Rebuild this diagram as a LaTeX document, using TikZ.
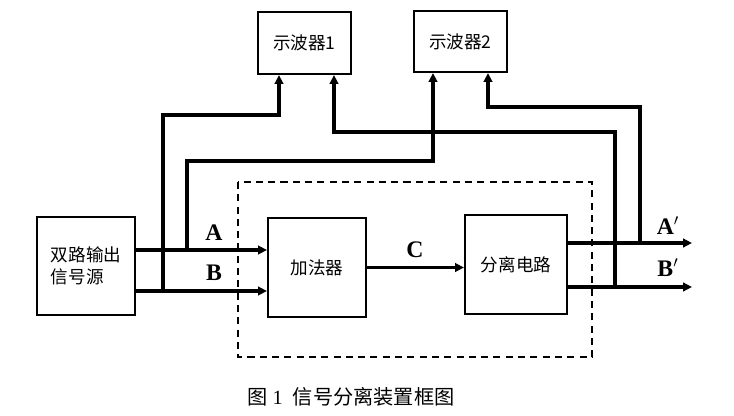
\documentclass[tikz,border=0pt]{standalone}
\usepackage{fontspec}
\setmainfont{Liberation Serif}
\newfontfamily\cjk{Noto Sans CJK SC}
\usetikzlibrary{arrows.meta,calc}

\begin{document}
\begin{tikzpicture}[
  x=0.02cm, y=-0.02cm,
  block/.style={draw, line width=1.2pt, inner sep=0pt,
    font=\cjk\fontsize{10}{12.5}\selectfont, align=left},
  sig/.style={line width=2pt, -{Triangle[length=5pt,width=4.8pt]}},
  frame/.style={line width=1.1pt, dash pattern=on 4pt off 3pt},
  lbl/.style={font=\bfseries\fontsize{13.5}{15}\selectfont},
  caption/.style={font=\fontsize{11.5}{13}\selectfont},
]
  \useasboundingbox (0,0) rectangle (734,416);

  % Oscilloscopes
  \node[block, minimum width=1.86cm, minimum height=1.24cm] (osc1) at (304.5,43)
    {示波器1};
  \node[block, minimum width=1.86cm, minimum height=1.22cm] (osc2) at (460.5,41.5)
    {示波器2};

  % Source, adder, separator
  \node[block, minimum width=1.96cm, minimum height=1.96cm] (src) at (86,266)
    {双路输出\\信号源};
  \node[block, minimum width=1.96cm, minimum height=1.98cm] (add) at (317,267.5)
    {加法器};
  \node[block, minimum width=2.04cm, minimum height=1.98cm] (sep) at (516,264.5)
    {分离电路};

  % Dashed device frame
  \draw[frame] (238,182) rectangle (592,357);

  % Junctions and turning points
  \coordinate (ja) at (187,250);
  \coordinate (jb) at (163,291);
  \coordinate (ta) at (433,161);
  \coordinate (tb) at (279,115);
  \coordinate (ja2) at (640,243);
  \coordinate (jb2) at (615,287);
  \coordinate (ta2) at (488,107);
  \coordinate (tb2) at (334,132);
  \coordinate (ea) at (692,243);
  \coordinate (eb) at (692,287);

  % Inputs A and B
  \draw[sig] (src.east |- ja) -- (add.west |- ja);
  \draw[sig] (src.east |- jb) -- (add.west |- jb);
  \draw[sig] (ja) |- (ta) -- (osc2.south -| ta);
  \draw[sig] (jb) |- (tb) -- (osc1.south -| tb);

  % Sum C
  \draw[sig] (add.east) -- (sep.west |- add.east);

  % Outputs A' and B'
  \draw[sig] (sep.east |- ea) -- (ea);
  \draw[sig] (sep.east |- eb) -- (eb);
  \draw[sig] (ja2) |- (ta2) -- (osc2.south -| ta2);
  \draw[sig] (jb2) |- (tb2) -- (osc1.south -| tb2);

  % Signal labels
  \node[lbl] (la) at (214,233) {A};
  \node[lbl] (lb) at (214,273) {B};
  \node[lbl] (lc) at (415,250) {C};
  \node[lbl] (la2) at (668,226) {A$'$};
  \node[lbl] (lb2) at (668,268) {B$'$};

  % Caption
  \node[caption] (cap) at (351,397) {{\cjk 图}\ 1\ \ {\cjk 信号分离装置框图}};
\end{tikzpicture}
\end{document}
